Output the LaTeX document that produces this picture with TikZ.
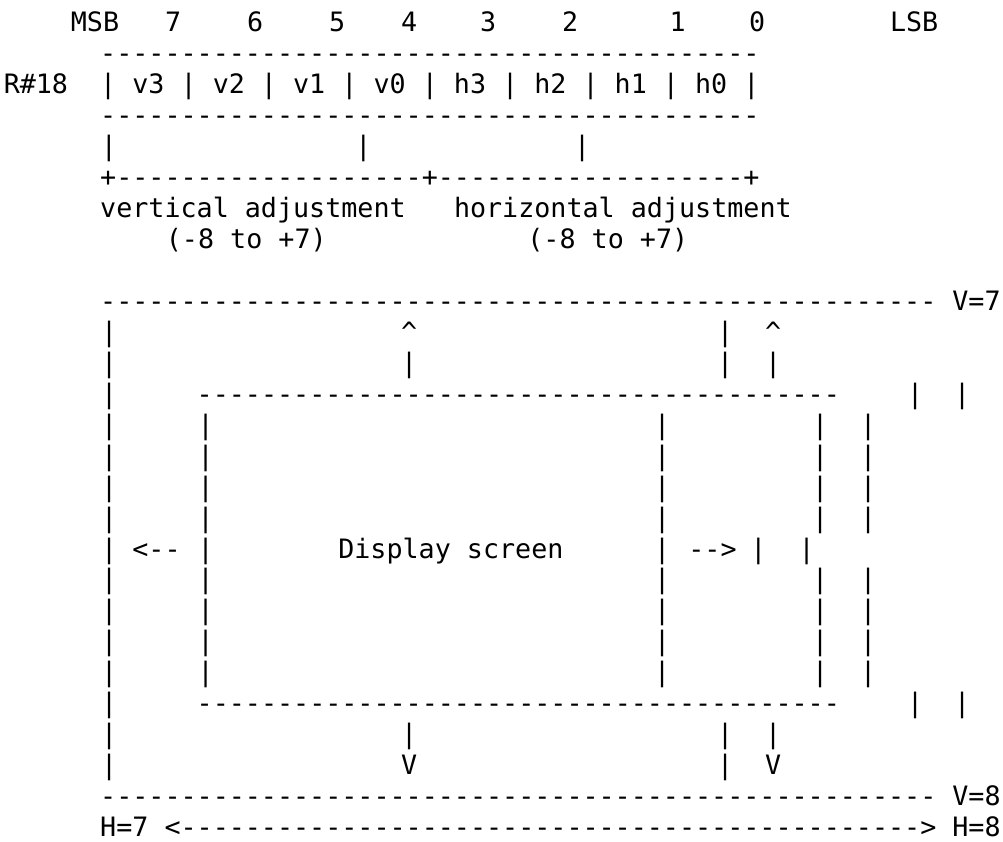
\documentclass[tikz,border=0pt]{standalone}
\usepackage{fontspec}
\setmonofont{DejaVu Sans Mono}
\newcommand\yr[1]{31.7+30.96*#1}
\newcommand\dashrun[1]{\foreach\i in {1,...,#1}{-}}
\tikzset{asc/.style={anchor=base west, inner sep=0pt, outer sep=0pt,
  font=\ttfamily\fontsize{26.71}{31}\selectfont\frenchspacing, text=black}}
\begin{document}
\begin{tikzpicture}[x=1pt,y=-1pt]
\useasboundingbox[fill=white] (0,0) rectangle (1003,842);
% row 0: bit numbers
\node[asc] (msb) at (70.9,{\yr{0}}) {MSB};
\node[asc] (b7) at (165,{\yr{0}}) {7};
\node[asc] (b6) at (247,{\yr{0}}) {6};
\node[asc] (b5) at (329,{\yr{0}}) {5};
\node[asc] (b4) at (401,{\yr{0}}) {4};
\node[asc] (b3) at (480,{\yr{0}}) {3};
\node[asc] (b2) at (562,{\yr{0}}) {2};
\node[asc] (b1) at (669.5,{\yr{0}}) {1};
\node[asc] (b0) at (749,{\yr{0}}) {0};
\node[asc] (lsb) at (890,{\yr{0}}) {LSB};
% register box
\node[asc] (top1) at (100.2,{\yr{1}}) {\dashrun{41}};
\node[asc] (reg) at (3.75,{\yr{2}}) {R\#18};
\node[asc] (bits) at (100.2,{\yr{2}}) {| v3 | v2 | v1 | v0 | h3 | h2 | h1 | h0 |};
\node[asc] (top3) at (100.2,{\yr{3}}) {\dashrun{41}};
\node[asc] (t4a) at (100.8,{\yr{4}}) {|};
\node[asc] (t4b) at (355.4,{\yr{4}}) {|};
\node[asc] (t4c) at (574.2,{\yr{4}}) {|};
\node[asc] (plus) at (100.2,{\yr{5}}) {+\dashrun{19}+\dashrun{19}+};
\node[asc] (vadj) at (100.2,{\yr{6}}) {vertical adjustment};
\node[asc] (hadj) at (454.0,{\yr{6}}) {horizontal adjustment};
\node[asc] (vrng) at (165.9,{\yr{7}}) {(-8 to +7)};
\node[asc] (hrng) at (527.4,{\yr{7}}) {(-8 to +7)};
% outer frame
\node[asc] (v7) at (100.2,{\yr{9}}) {\dashrun{52} V=7};
\node[asc] (v8) at (100.2,{\yr{25}}) {\dashrun{52} V=8};
\node[asc] (harrow) at (100.2,{\yr{26}}) {H=7 <\dashrun{46}> H=8};
\foreach \r in {10,...,24}{
  \node[asc] (L\r) at (101,{\yr{\r}}) {|};
}
% up arrows
\node[asc] (upa) at (401,{\yr{10}}) {\textasciicircum};
\node[asc] (upb) at (717,{\yr{10}}) {|};
\node[asc] (upc) at (765,{\yr{10}}) {\textasciicircum};
\node[asc] (upd) at (401,{\yr{11}}) {|};
\node[asc] (upe) at (717,{\yr{11}}) {|};
\node[asc] (upf) at (765,{\yr{11}}) {|};
% inner screen top / bottom
\node[asc] (itop) at (196.7,{\yr{12}}) {\dashrun{40}};
\node[asc] (itr1) at (907,{\yr{12}}) {|};
\node[asc] (itr2) at (954,{\yr{12}}) {|};
\node[asc] (ibot) at (196.7,{\yr{22}}) {\dashrun{40}};
\node[asc] (ibr1) at (907,{\yr{22}}) {|};
\node[asc] (ibr2) at (954,{\yr{22}}) {|};
% inner screen sides
\foreach \r in {13,14,15,16,18,19,20,21}{
  \node[asc] (SA\r) at (197.5,{\yr{\r}}) {|};
  \node[asc] (SB\r) at (654,{\yr{\r}}) {|};
  \node[asc] (SC\r) at (812,{\yr{\r}}) {|};
  \node[asc] (SD\r) at (860,{\yr{\r}}) {|};
}
% middle row
\node[asc] (larr) at (132.4,{\yr{17}}) {<--};
\node[asc] (m1) at (197.5,{\yr{17}}) {|};
\node[asc] (disp) at (338.3,{\yr{17}}) {Display screen};
\node[asc] (m2) at (654,{\yr{17}}) {|};
\node[asc] (rarr) at (688.4,{\yr{17}}) {-->};
\node[asc] (m3) at (750.3,{\yr{17}}) {|};
\node[asc] (m4) at (798.7,{\yr{17}}) {|};
% down arrows
\node[asc] (dna) at (401,{\yr{23}}) {|};
\node[asc] (dnb) at (717,{\yr{23}}) {|};
\node[asc] (dnc) at (765,{\yr{23}}) {|};
\node[asc] (dnd) at (401,{\yr{24}}) {V};
\node[asc] (dne) at (717,{\yr{24}}) {|};
\node[asc] (dnf) at (765,{\yr{24}}) {V};
\end{tikzpicture}
\end{document}
